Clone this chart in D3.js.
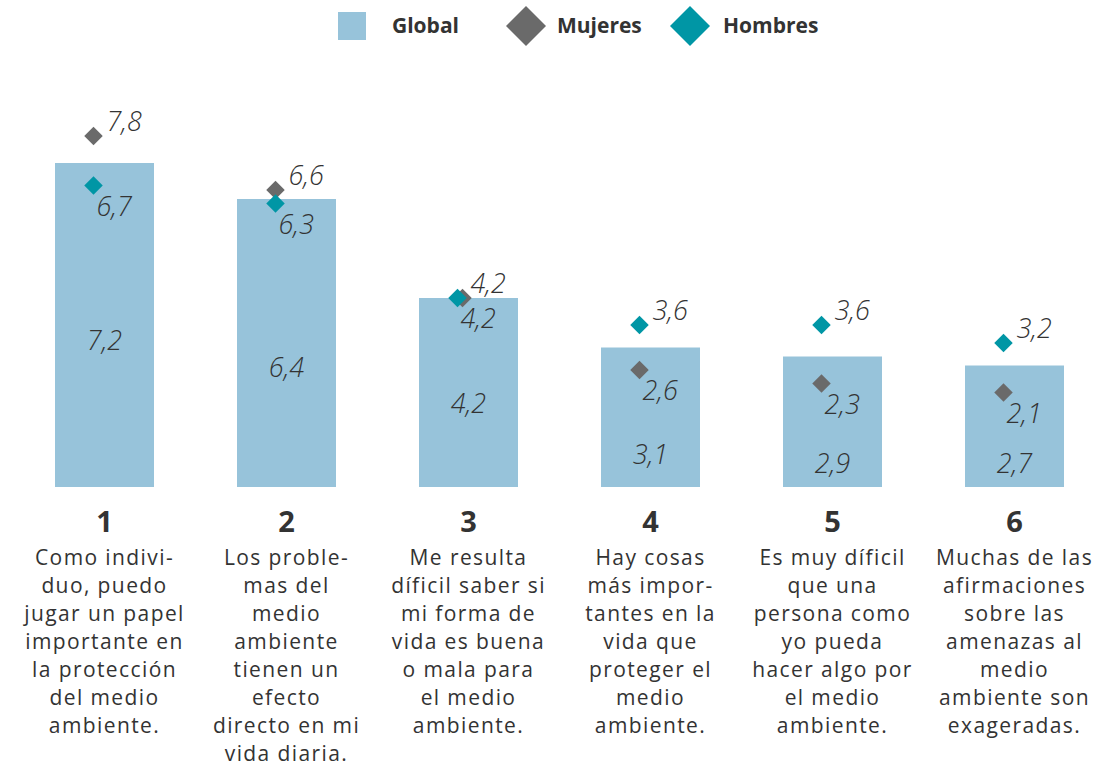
<!DOCTYPE html>
<html>
<head>
<meta charset="utf-8">
<script src="https://cdn.jsdelivr.net/npm/d3@7"></script>
<style>
  body { margin: 0; background: #fff; }
  text { font-family: "Open Sans", Lato, sans-serif; fill: #333; }
</style>
</head>
<body>
<div id="chart"></div>
<script>
const numbers = ["1", "2", "3", "4", "5", "6"];
const statements = [
    ["Como indivi-", "duo, puedo", "jugar un papel", "importante en", "la protección", "del medio", "ambiente."],
    ["Los proble-", "mas del", "medio", "ambiente", "tienen un", "efecto", "directo en mi", "vida diaria."],
    ["Me resulta", "díficil saber si", "mi forma de", "vida es buena", "o mala para", "el medio", "ambiente."],
    ["Hay cosas", "más impor-", "tantes en la", "vida que", "proteger el", "medio", "ambiente."],
    ["Es muy díficil", "que una", "persona como", "yo pueda", "hacer algo por", "el medio", "ambiente."],
    ["Muchas de las", "afirmaciones", "sobre las", "amenazas al", "medio", "ambiente son", "exageradas."]
];
const globalValues = [7.2, 6.4, 4.2, 3.1, 2.9, 2.7];
const mujeresValues = [7.8, 6.6, 4.2, 2.6, 2.3, 2.1];
const hombresValues = [6.7, 6.3, 4.2, 3.6, 3.6, 3.2];
// where the global label sits inside each bar (in value units)
const globalLabelAt = [3.3, 2.7, 1.9, 0.75, 0.55, 0.55];

const colors = { global: "#97c3da", mujeres: "#6a6a6a", hombres: "#0096a5" };
const fmt = v => d3.format(".1f")(v).replace(".", ",");

const svg = d3.select("#chart")
    .append("svg")
    .attr("width", 1107)
    .attr("height", 767);

const x = d3.scaleBand()
    .domain(numbers)
    .range([13.5, 1105.5])
    .paddingInner(0.456)
    .paddingOuter(0.228);

const y = d3.scaleLinear()
    .domain([0, 8])
    .range([487, 127]);

const data = numbers.map((n, i) => ({
    n: n,
    lines: statements[i],
    g: globalValues[i],
    m: mujeresValues[i],
    h: hombresValues[i],
    at: globalLabelAt[i]
}));

// legend
const legend = svg.append("g");
legend.append("rect")
    .attr("x", 338).attr("y", 12)
    .attr("width", 28).attr("height", 28)
    .attr("fill", colors.global);
legend.append("text")
    .attr("x", 392).attr("y", 33)
    .style("font-size", "21px").style("font-weight", "bold")
    .text("Global");
legend.append("path")
    .attr("d", d3.symbol(d3.symbolSquare, 800)())
    .attr("transform", "translate(526,26) rotate(45)")
    .attr("fill", colors.mujeres);
legend.append("text")
    .attr("x", 557).attr("y", 33)
    .style("font-size", "21px").style("font-weight", "bold")
    .text("Mujeres");
legend.append("path")
    .attr("d", d3.symbol(d3.symbolSquare, 800)())
    .attr("transform", "translate(690,26) rotate(45)")
    .attr("fill", colors.hombres);
legend.append("text")
    .attr("x", 723).attr("y", 33)
    .style("font-size", "21px").style("font-weight", "bold")
    .text("Hombres");

// bars
svg.selectAll("rect.bar")
    .data(data)
    .enter()
    .append("rect")
    .attr("class", "bar")
    .attr("x", d => x(d.n))
    .attr("y", d => y(d.g))
    .attr("width", x.bandwidth())
    .attr("height", d => y(0) - y(d.g))
    .attr("fill", colors.global);

svg.selectAll("text.glabel")
    .data(data)
    .enter()
    .append("text")
    .attr("class", "glabel")
    .attr("x", d => x(d.n) + x.bandwidth() / 2)
    .attr("y", d => y(d.at) + 11)
    .attr("text-anchor", "middle")
    .style("font-size", "27px")
    .style("font-style", "italic")
    .style("font-weight", 300)
    .text(d => fmt(d.g));

// diamonds
const diamond = d3.symbol(d3.symbolSquare, 170)();
const cx = d => x(d.n) + x.bandwidth() / 2 - 11;

const series = [
    { key: "m", color: colors.mujeres, above: d => d.m >= d.h, nudge: d => d.m === d.h ? 5 : 0 },
    { key: "h", color: colors.hombres, above: d => d.h > d.m, nudge: d => 0 }
];

series.forEach(s => {
    const g = svg.append("g");
    g.selectAll("path")
        .data(data)
        .enter()
        .append("path")
        .attr("d", diamond)
        .attr("transform", d => `translate(${cx(d) + s.nudge(d)},${y(d[s.key])}) rotate(45)`)
        .attr("fill", s.color);
});

series.forEach(s => {
    svg.append("g").selectAll("text")
        .data(data)
        .enter()
        .append("text")
        .attr("x", d => s.above(d) ? cx(d) + 13 : cx(d) + 3)
        .attr("y", d => s.above(d) ? y(d[s.key]) - 5 : y(d[s.key]) + 30)
        .style("font-size", "27px")
        .style("font-style", "italic")
        .style("font-weight", 300)
        .text(d => fmt(d[s.key]));
});

// category numbers and statements
const cats = svg.selectAll("g.cat")
    .data(data)
    .enter()
    .append("g")
    .attr("class", "cat")
    .attr("transform", d => `translate(${x(d.n) + x.bandwidth() / 2}, 0)`);

cats.append("text")
    .attr("y", 532)
    .attr("text-anchor", "middle")
    .style("font-size", "29px")
    .style("font-weight", "bold")
    .text(d => d.n);

cats.each(function(d) {
    d3.select(this).selectAll("text.line")
        .data(d.lines)
        .enter()
        .append("text")
        .attr("class", "line")
        .attr("y", (l, i) => 565 + i * 28)
        .attr("text-anchor", "middle")
        .style("font-size", "21px")
        .style("letter-spacing", "1.4px")
        .text(l => l);
});
</script>
</body>
</html>
